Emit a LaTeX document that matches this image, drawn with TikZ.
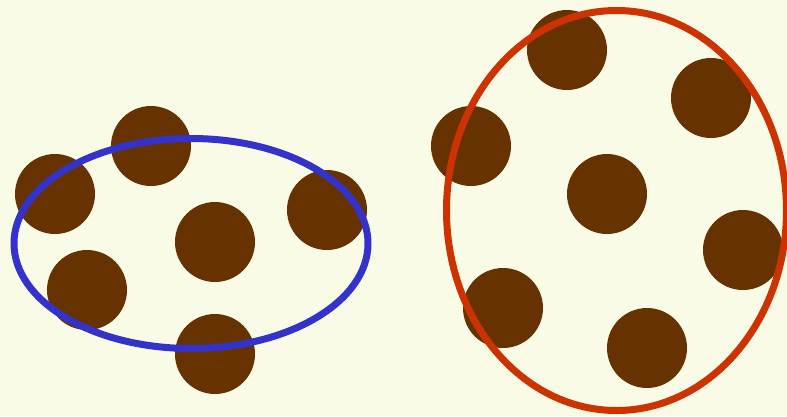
\documentclass[tikz,border=0pt]{standalone}
\definecolor{bg}{HTML}{FAFBE6}
\definecolor{dot}{HTML}{663300}
\definecolor{blueline}{HTML}{3333CC}
\definecolor{redline}{HTML}{CC3300}
\begin{document}
\begin{tikzpicture}[x=1pt,y=-1pt,
  dotstyle/.style={fill=dot},
  ringstyle/.style={line width=7pt}]
\fill[bg] (0,0) rectangle (787,416);
\useasboundingbox (0,0) rectangle (787,416);
\foreach \x/\y in {55/194,151/146,215/242,327/210,87/290,215/354,
  567/50,711/98,471/146,607/194,743/250,503/308,647/348}
  \fill[dotstyle] (\x,\y) circle[radius=40];
\draw[ringstyle,blueline] (191,243.5) ellipse[x radius=177,y radius=105];
\draw[ringstyle,redline] (616.5,210.5) ellipse[x radius=170,y radius=200];
\end{tikzpicture}
\end{document}
